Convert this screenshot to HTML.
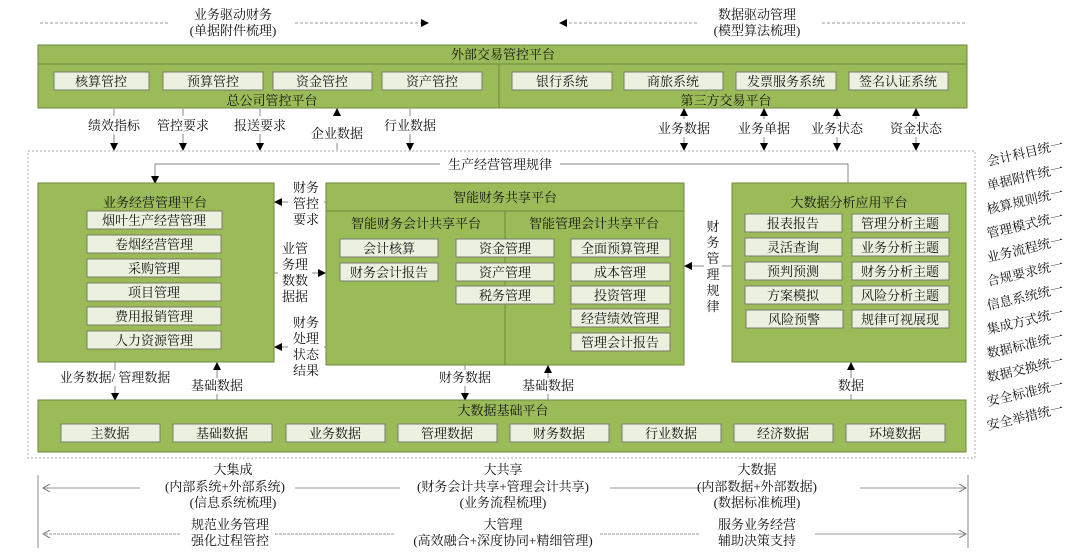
<!DOCTYPE html>
<html><head><meta charset="utf-8"><style>
html,body{margin:0;padding:0;background:#fff}
svg{display:block}
text{font-family:"Liberation Serif","Noto Serif CJK SC",serif;font-size:13px;fill:#111}
.g{fill:#9bbb59;stroke:#6e8a3b;stroke-width:1}
.b{fill:#ebf1de;stroke:#7a7a6a;stroke-width:1}
.c{text-anchor:middle}
.l{stroke:#888;stroke-width:1;fill:none}
.d{stroke:#999;stroke-width:1;stroke-dasharray:3,2;fill:none}
</style></head><body>
<svg width="1080" height="555" viewBox="0 0 1080 555" xmlns="http://www.w3.org/2000/svg">
<defs>
<marker id="a" markerWidth="8" markerHeight="8" refX="7" refY="4" orient="auto-start-reverse" markerUnits="userSpaceOnUse"><path d="M0,0 L8,4 L0,8z" fill="#000"/></marker>
<marker id="o" markerWidth="8" markerHeight="8" refX="7" refY="4" orient="auto" markerUnits="userSpaceOnUse"><path d="M0,0 L7,4 L0,8" fill="none" stroke="#777"/></marker>
</defs>
<!-- top -->
<text class="c" x="233" y="19">业务驱动财务</text>
<text class="c" x="233" y="35">(单据附件梳理)</text>
<line class="d" x1="40" y1="23" x2="170" y2="23"/>
<line class="d" x1="295" y1="23" x2="428" y2="23" marker-end="url(#a)"/>
<text class="c" x="757" y="19">数据驱动管理</text>
<text class="c" x="757" y="35">(模型算法梳理)</text>
<line class="d" x1="697" y1="23" x2="560" y2="23" marker-end="url(#a)"/>
<line class="d" x1="822" y1="23" x2="965" y2="23"/>
<!-- external platform -->
<rect class="g" x="38" y="45" width="929" height="63"/>
<line x1="38" y1="64" x2="967" y2="64" stroke="#6e8a3b"/>
<line x1="499" y1="64" x2="499" y2="108" stroke="#6e8a3b"/>
<text class="c" x="503" y="59">外部交易管控平台</text>
<rect class="b" x="54" y="72" width="95" height="18"/><text class="c" x="101" y="86">核算管控</text>
<rect class="b" x="163" y="72" width="100" height="18"/><text class="c" x="213" y="86">预算管控</text>
<rect class="b" x="273" y="72" width="99" height="18"/><text class="c" x="322" y="86">资金管控</text>
<rect class="b" x="382" y="72" width="100" height="18"/><text class="c" x="432" y="86">资产管控</text>
<text class="c" x="272" y="105">总公司管控平台</text>
<rect class="b" x="512" y="72" width="100" height="18"/><text class="c" x="562" y="86">银行系统</text>
<rect class="b" x="624" y="72" width="99" height="18"/><text class="c" x="673" y="86">商旅系统</text>
<rect class="b" x="736" y="72" width="100" height="18"/><text class="c" x="786" y="86">发票服务系统</text>
<rect class="b" x="849" y="72" width="99" height="18"/><text class="c" x="898" y="86">签名认证系统</text>
<text class="c" x="726" y="105">第三方交易平台</text>
<!-- arrows row 1 -->
<line class="l" x1="114" y1="109" x2="114" y2="150" marker-end="url(#a)"/>
<line class="l" x1="183" y1="109" x2="183" y2="150" marker-end="url(#a)"/>
<line class="l" x1="260" y1="109" x2="260" y2="150" marker-end="url(#a)"/>
<line class="l" x1="337" y1="150" x2="337" y2="109" marker-end="url(#a)"/>
<line class="l" x1="410" y1="109" x2="410" y2="150" marker-end="url(#a)"/>
<rect x="80" y="116" width="360" height="18" fill="#fff"/>
<rect x="300" y="125" width="70" height="18" fill="#fff"/>
<text class="c" x="114" y="130">绩效指标</text>
<text class="c" x="183" y="130">管控要求</text>
<text class="c" x="260" y="130">报送要求</text>
<text class="c" x="337" y="138">企业数据</text>
<text class="c" x="410" y="130">行业数据</text>
<line class="l" x1="684" y1="150" x2="684" y2="109" marker-start="url(#a)" marker-end="url(#a)"/>
<line class="l" x1="764" y1="150" x2="764" y2="109" marker-start="url(#a)" marker-end="url(#a)"/>
<line class="l" x1="837" y1="150" x2="837" y2="109" marker-start="url(#a)" marker-end="url(#a)"/>
<line class="l" x1="916" y1="150" x2="916" y2="109" marker-start="url(#a)" marker-end="url(#a)"/>
<rect x="650" y="119" width="300" height="18" fill="#fff"/>
<text class="c" x="684" y="133">业务数据</text>
<text class="c" x="764" y="133">业务单据</text>
<text class="c" x="837" y="133">业务状态</text>
<text class="c" x="916" y="133">资金状态</text>
<!-- dashed container -->
<rect x="28" y="151" width="947" height="307" fill="none" stroke="#aaa" stroke-dasharray="2,2"/>
<polyline class="l" points="848,183 848,164 155,164 155,183" marker-end="url(#a)"/>
<rect x="440" y="156" width="120" height="16" fill="#fff"/>
<text class="c" x="500" y="169">生产经营管理规律</text>
<!-- business platform -->
<rect class="g" x="38" y="183" width="236" height="179"/>
<text class="c" x="155" y="207">业务经营管理平台</text>
<rect class="b" x="87" y="211" width="135" height="18"/><text class="c" x="154" y="225">烟叶生产经营管理</text>
<rect class="b" x="87" y="235" width="134" height="18"/><text class="c" x="154" y="249">卷烟经营管理</text>
<rect class="b" x="87" y="259" width="134" height="18"/><text class="c" x="154" y="273">采购管理</text>
<rect class="b" x="87" y="283" width="134" height="18"/><text class="c" x="154" y="297">项目管理</text>
<rect class="b" x="87" y="307" width="134" height="18"/><text class="c" x="154" y="321">费用报销管理</text>
<rect class="b" x="87" y="331" width="134" height="18"/><text class="c" x="154" y="345">人力资源管理</text>
<!-- mid labels -->
<line class="l" x1="326" y1="202" x2="275" y2="202" marker-end="url(#a)"/>
<rect x="288" y="178" width="36" height="48" fill="#fff"/>
<text class="c" x="306" y="192">财务</text><text class="c" x="306" y="208">管控</text><text class="c" x="306" y="224">要求</text>
<line class="l" x1="274" y1="273" x2="325" y2="273" marker-end="url(#a)"/>
<rect x="278" y="240" width="34" height="64" fill="#fff"/>
<text class="c" x="295" y="253">业管</text><text class="c" x="295" y="269">务理</text><text class="c" x="295" y="285">数数</text><text class="c" x="295" y="301">据据</text>
<line class="l" x1="326" y1="347" x2="275" y2="347" marker-end="url(#a)"/>
<rect x="288" y="313" width="36" height="64" fill="#fff"/>
<text class="c" x="306" y="327">财务</text><text class="c" x="306" y="343">处理</text><text class="c" x="306" y="359">状态</text><text class="c" x="306" y="375">结果</text>
<!-- shared platform -->
<rect class="g" x="326" y="183" width="358" height="182"/>
<line x1="326" y1="211" x2="684" y2="211" stroke="#6e8a3b"/>
<line x1="505" y1="211" x2="505" y2="365" stroke="#6e8a3b"/>
<text class="c" x="505" y="202">智能财务共享平台</text>
<text class="c" x="416" y="228">智能财务会计共享平台</text>
<text class="c" x="594" y="228">智能管理会计共享平台</text>
<rect class="b" x="340" y="239" width="98" height="18"/><text class="c" x="389" y="253">会计核算</text>
<rect class="b" x="340" y="263" width="98" height="18"/><text class="c" x="389" y="277">财务会计报告</text>
<rect class="b" x="456" y="239" width="98" height="18"/><text class="c" x="505" y="253">资金管理</text>
<rect class="b" x="456" y="263" width="98" height="18"/><text class="c" x="505" y="277">资产管理</text>
<rect class="b" x="456" y="286" width="98" height="18"/><text class="c" x="505" y="300">税务管理</text>
<rect class="b" x="571" y="239" width="99" height="18"/><text class="c" x="620" y="253">全面预算管理</text>
<rect class="b" x="571" y="263" width="99" height="18"/><text class="c" x="620" y="277">成本管理</text>
<rect class="b" x="571" y="286" width="99" height="18"/><text class="c" x="620" y="300">投资管理</text>
<rect class="b" x="571" y="309" width="99" height="18"/><text class="c" x="620" y="323">经营绩效管理</text>
<rect class="b" x="571" y="333" width="99" height="18"/><text class="c" x="620" y="347">管理会计报告</text>
<!-- 财务管理规律 -->
<line class="l" x1="732" y1="266" x2="685" y2="266" marker-end="url(#a)"/>
<rect x="704" y="218" width="18" height="96" fill="#fff"/>
<text class="c" x="713" y="231">财</text><text class="c" x="713" y="247">务</text><text class="c" x="713" y="263">管</text><text class="c" x="713" y="279">理</text><text class="c" x="713" y="295">规</text><text class="c" x="713" y="311">律</text>
<!-- bigdata analysis -->
<rect class="g" x="732" y="183" width="234" height="179"/>
<text class="c" x="849" y="207">大数据分析应用平台</text>
<rect class="b" x="745" y="214" width="97" height="18"/><text class="c" x="793" y="228">报表报告</text>
<rect class="b" x="852" y="214" width="97" height="18"/><text class="c" x="900" y="228">管理分析主题</text>
<rect class="b" x="745" y="238" width="97" height="18"/><text class="c" x="793" y="252">灵活查询</text>
<rect class="b" x="852" y="238" width="97" height="18"/><text class="c" x="900" y="252">业务分析主题</text>
<rect class="b" x="745" y="262" width="97" height="18"/><text class="c" x="793" y="276">预判预测</text>
<rect class="b" x="852" y="262" width="97" height="18"/><text class="c" x="900" y="276">财务分析主题</text>
<rect class="b" x="745" y="286" width="97" height="18"/><text class="c" x="793" y="300">方案模拟</text>
<rect class="b" x="852" y="286" width="97" height="18"/><text class="c" x="900" y="300">风险分析主题</text>
<rect class="b" x="746" y="310" width="97" height="18"/><text class="c" x="794" y="324">风险预警</text>
<rect class="b" x="852" y="310" width="97" height="18"/><text class="c" x="900" y="324">规律可视展现</text>
<!-- lower arrows -->
<line class="l" x1="115" y1="362" x2="115" y2="400" marker-end="url(#a)"/>
<line class="l" x1="217" y1="400" x2="217" y2="363" marker-end="url(#a)"/>
<line class="l" x1="465" y1="365" x2="465" y2="400" marker-end="url(#a)"/>
<line class="l" x1="548" y1="400" x2="548" y2="366" marker-end="url(#a)"/>
<line class="l" x1="851" y1="400" x2="851" y2="363" marker-end="url(#a)"/>
<rect x="52" y="370" width="126" height="16" fill="#fff"/>
<text class="c" x="115" y="382">业务数据/ 管理数据</text>
<rect x="186" y="378" width="62" height="16" fill="#fff"/><text class="c" x="217" y="390">基础数据</text>
<rect x="434" y="370" width="62" height="16" fill="#fff"/><text class="c" x="465" y="382">财务数据</text>
<rect x="517" y="378" width="62" height="16" fill="#fff"/><text class="c" x="548" y="390">基础数据</text>
<rect x="834" y="378" width="34" height="16" fill="#fff"/><text class="c" x="851" y="390">数据</text>
<!-- base platform -->
<rect class="g" x="38" y="400" width="928" height="52"/>
<text class="c" x="503" y="415">大数据基础平台</text>
<rect class="b" x="61" y="424" width="99" height="18"/><text class="c" x="110" y="438">主数据</text>
<rect class="b" x="173" y="424" width="99" height="18"/><text class="c" x="222" y="438">基础数据</text>
<rect class="b" x="286" y="424" width="99" height="18"/><text class="c" x="335" y="438">业务数据</text>
<rect class="b" x="398" y="424" width="99" height="18"/><text class="c" x="447" y="438">管理数据</text>
<rect class="b" x="510" y="424" width="99" height="18"/><text class="c" x="559" y="438">财务数据</text>
<rect class="b" x="622" y="424" width="99" height="18"/><text class="c" x="671" y="438">行业数据</text>
<rect class="b" x="734" y="424" width="99" height="18"/><text class="c" x="783" y="438">经济数据</text>
<rect class="b" x="846" y="424" width="99" height="18"/><text class="c" x="895" y="438">环境数据</text>
<!-- right rotated list -->
<g font-size="12">
<text transform="translate(988,166) rotate(-13)">会计科目统一</text>
<text transform="translate(988,190) rotate(-13)">单据附件统一</text>
<text transform="translate(988,214) rotate(-13)">核算规则统一</text>
<text transform="translate(988,238) rotate(-13)">管理模式统一</text>
<text transform="translate(988,262) rotate(-13)">业务流程统一</text>
<text transform="translate(988,286) rotate(-13)">合规要求统一</text>
<text transform="translate(988,310) rotate(-13)">信息系统统一</text>
<text transform="translate(988,334) rotate(-13)">集成方式统一</text>
<text transform="translate(988,358) rotate(-13)">数据标准统一</text>
<text transform="translate(988,382) rotate(-13)">数据交换统一</text>
<text transform="translate(988,406) rotate(-13)">安全标准统一</text>
<text transform="translate(988,430) rotate(-13)">安全举措统一</text>
</g>
<!-- bottom -->
<line x1="38" y1="475" x2="38" y2="548" stroke="#888"/>
<line x1="968" y1="475" x2="968" y2="548" stroke="#888"/>
<line x1="140" y1="488" x2="43" y2="488" stroke="#999" marker-end="url(#o)"/>
<line x1="295" y1="488" x2="400" y2="488" stroke="#999"/>
<line x1="610" y1="488" x2="710" y2="488" stroke="#999"/>
<line x1="860" y1="488" x2="966" y2="488" stroke="#999" marker-end="url(#o)"/>
<text class="c" x="233" y="474">大集成</text>
<text class="c" x="225" y="491">(内部系统+外部系统)</text>
<text class="c" x="233" y="507">(信息系统梳理)</text>
<text class="c" x="503" y="474">大共享</text>
<text class="c" x="503" y="491">(财务会计共享+管理会计共享)</text>
<text class="c" x="503" y="507">(业务流程梳理)</text>
<text class="c" x="757" y="474">大数据</text>
<text class="c" x="757" y="491">(内部数据+外部数据)</text>
<text class="c" x="757" y="507">(数据标准梳理)</text>
<line x1="180" y1="534" x2="43" y2="534" stroke="#999" stroke-dasharray="3,1" marker-end="url(#o)"/>
<line x1="275" y1="534" x2="395" y2="534" stroke="#999" stroke-dasharray="3,1"/>
<line x1="600" y1="534" x2="700" y2="534" stroke="#999" stroke-dasharray="3,1"/>
<line x1="815" y1="534" x2="966" y2="534" stroke="#999" marker-end="url(#o)"/>
<text class="c" x="230" y="529">规范业务管理</text>
<text class="c" x="230" y="545">强化过程管控</text>
<text class="c" x="503" y="529">大管理</text>
<text class="c" x="503" y="545">(高效融合+深度协同+精细管理)</text>
<text class="c" x="757" y="529">服务业务经营</text>
<text class="c" x="757" y="545">辅助决策支持</text>
</svg>
</body></html>
